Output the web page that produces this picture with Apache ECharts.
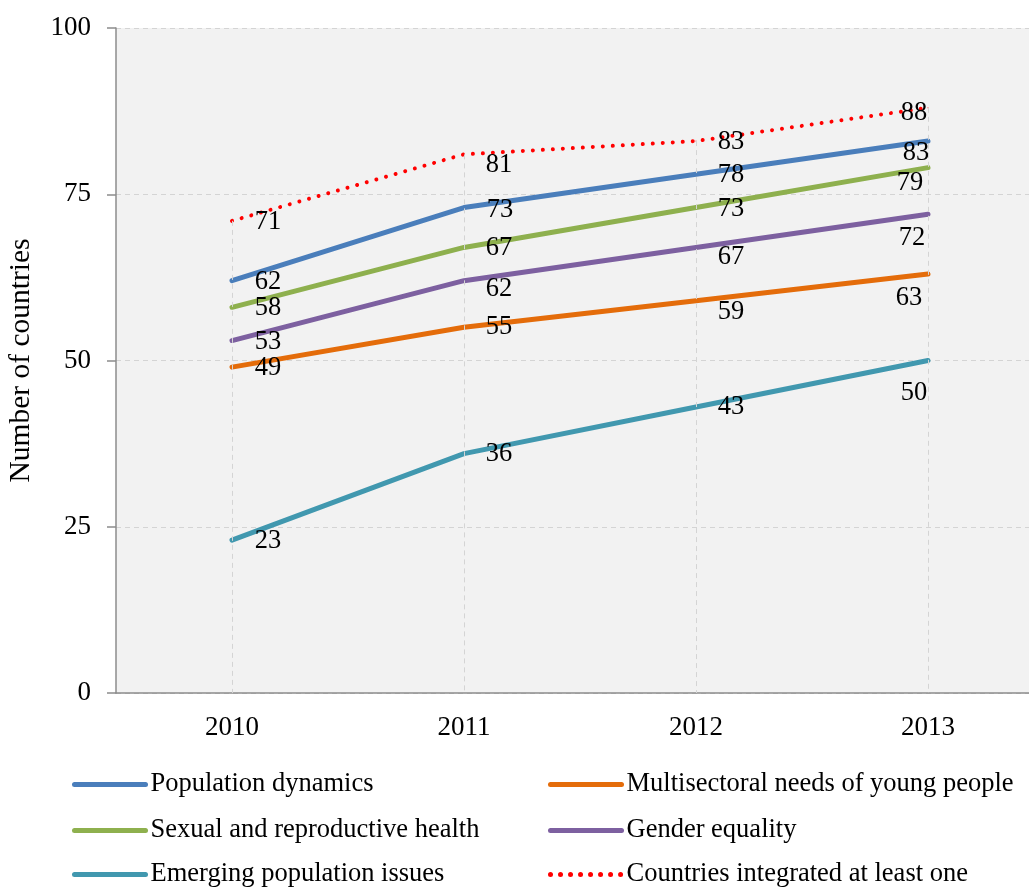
<!DOCTYPE html>
<html>
<head>
<meta charset="utf-8">
<script src="https://cdn.jsdelivr.net/npm/echarts@6/dist/echarts.min.js"></script>
<style>
html,body{margin:0;padding:0;background:#fff;}
#chart{width:1029px;height:888px;}
</style>
</head>
<body>
<div id="chart"></div>
<script>
// ---- data ----
const categories = ['2010', '2011', '2012', '2013'];
const popDynamics = [62, 73, 78, 83];
const multisectoral = [49, 55, 59, 63];
const sexualHealth = [58, 67, 73, 79];
const genderEquality = [53, 62, 67, 72];
const emergingIssues = [23, 36, 43, 50];
const atLeastOne = [71, 81, 83, 88];
const yMin = 0, yMax = 100, yStep = 25;
const yAxisTitle = 'Number of countries';
const names = [
  'Population dynamics',
  'Multisectoral needs of young people',
  'Sexual and reproductive health',
  'Gender equality',
  'Emerging population issues',
  'Countries integrated at least one'
];

// ---- layout ----
const labelOffsets = {
  pop:   [[36, 1], [36, 2], [35, 1], [-12, 12]],
  multi: [[36, 1], [35, 0], [35, 11], [-19, 24]],
  sex:   [[36, 1], [35, 1], [35, 1], [-18, 15]],
  gen:   [[36, 1], [35, 8], [35, 10], [-16, 24]],
  emer:  [[36, 1], [35, 0], [35, 0], [-14, 33]],
  one:   [[36, 1], [35, 11], [35, 1], [-14, 5]]
};
const legendCols = [72, 548];
const legendRows = [771, 817, 861];

const FONT = 'Liberation Serif';

function mk(name, values, color, offs, dotted) {
  return {
    name: name,
    type: 'line',
    data: values.map((v, i) => ({ value: v, label: { offset: offs[i] } })),
    symbol: 'circle',
    symbolSize: 1,
    showSymbol: true,
    itemStyle: { color: color },
    lineStyle: dotted
      ? { color: color, width: 4, type: [0.01, 10], cap: 'round' }
      : { color: color, width: 5, cap: 'round' },
    label: {
      show: true,
      position: 'inside',
      fontFamily: FONT,
      fontSize: 26.5,
      color: '#000',
      align: 'center',
      verticalAlign: 'middle'
    },
    emphasis: { disabled: true },
    silent: true,
    animation: false
  };
}

const dropLines = categories.map((c, i) => [
  { coord: [c, atLeastOne[i]] },
  { coord: [c, yMin] }
]);

const series = [
  mk(names[0], popDynamics, '#4a7ebb', labelOffsets.pop),
  mk(names[1], multisectoral, '#e46c0a', labelOffsets.multi),
  mk(names[2], sexualHealth, '#8eb04e', labelOffsets.sex),
  mk(names[3], genderEquality, '#7d60a0', labelOffsets.gen),
  mk(names[4], emergingIssues, '#4198af', labelOffsets.emer),
  mk(names[5], atLeastOne, '#ff0000', labelOffsets.one, true)
];
series[0].markLine = {
  silent: true,
  symbol: ['none', 'none'],
  label: { show: false },
  lineStyle: { type: [5, 4], color: '#d4d4d4', width: 1 },
  animation: false,
  data: dropLines
};

const legends = names.map((n, i) => ({
  orient: 'horizontal',
  left: legendCols[i % 2],
  top: legendRows[Math.floor(i / 2)],
  padding: 0,
  itemWidth: 71,
  itemHeight: 26,
  selectedMode: false,
  textStyle: { fontFamily: FONT, fontSize: 26.5, color: '#000', lineHeight: 26 },
  itemStyle: { opacity: 0 },
  lineStyle: { width: 5 },
  data: [n]
}));

const chart = echarts.init(document.getElementById('chart'));
chart.setOption({
  animation: false,
  backgroundColor: '#fff',
  grid: {
    left: 116,
    top: 28,
    width: 928,
    height: 665,
    outerBoundsMode: 'none',
    containLabel: false,
    show: true,
    backgroundColor: '#f2f2f2',
    borderWidth: 0
  },
  legend: legends,
  xAxis: {
    type: 'category',
    data: categories,
    boundaryGap: true,
    axisLine: { show: true, lineStyle: { color: '#8c8c8c', width: 1.5 } },
    axisTick: { show: false },
    splitLine: { show: false },
    axisLabel: { fontFamily: FONT, fontSize: 27, color: '#000', margin: 21 }
  },
  yAxis: {
    type: 'value',
    min: yMin,
    max: yMax,
    interval: yStep,
    name: yAxisTitle,
    nameLocation: 'middle',
    nameGap: 80,
    nameTextStyle: { fontFamily: FONT, fontSize: 29.5, color: '#000' },
    axisLine: { show: true, lineStyle: { color: '#8c8c8c', width: 1.5 } },
    axisTick: { show: true, length: 9, lineStyle: { color: '#8c8c8c', width: 1.5 } },
    splitLine: { show: true, lineStyle: { type: [5, 4], color: '#d4d4d4', width: 1 } },
    axisLabel: { fontFamily: FONT, fontSize: 27, color: '#000', margin: 25 }
  },
  series: series
});
</script>
</body>
</html>
